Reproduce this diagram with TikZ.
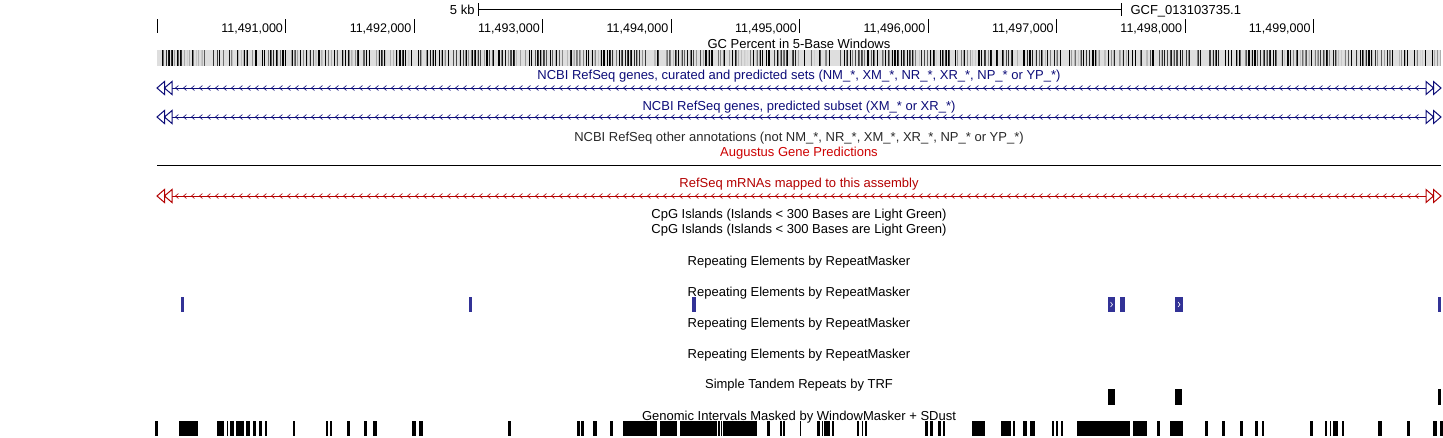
\documentclass[tikz,border=0pt]{standalone}
\usepackage{fontspec}
\setmainfont{Liberation Sans}

\definecolor{refblue}{RGB}{12,12,120}
\definecolor{mrnared}{RGB}{180,0,0}
\definecolor{augred}{RGB}{204,0,0}
\definecolor{rmblue}{RGB}{50,50,150}
\definecolor{gcback}{RGB}{222,222,222}
\definecolor{othergray}{RGB}{40,40,40}

\tikzset{
  tracklabel/.style={anchor=base, inner sep=0pt, font=\fontsize{13}{15}\selectfont},
  ticklabel/.style={anchor=base east, inner sep=0pt, font=\fontsize{12.5}{15}\selectfont},
}

\begin{document}
\begin{tikzpicture}[x=1pt,y=-1pt,line width=1pt]
    \useasboundingbox (0,0) rectangle (1443,437);
    % scale bar
    \draw (478,9.5) -- (1121,9.5);
    \draw (478,3) -- (478,16);
    \draw (1121,3) -- (1121,16);
    \node[tracklabel,anchor=base east](kb) at (475,14.5){5 kb};
    \node[tracklabel,anchor=base west](asm) at (1130,14.5){GCF\_013103735.1};
    % ruler
    \draw (157,19) -- (157,33);
    \foreach \n [count=\i] in {491,...,499} {
      \pgfmathsetmacro\tx{157.5+128.45*\i}
      \draw (\tx,19) -- (\tx,33);
      \node[ticklabel](pos\n) at (\tx-2.5,32){11,\n,000};
    }
    % gc percent
    \fill[gcback] (157,50) rectangle (1441,66);
    \pgfmathsetseed{42}
    \foreach \x in {157,158.5,...,1439.5} {
      \pgfmathtruncatemacro\k{min(100,max(0,210*rnd-70))}
      \ifnum\k>0 \fill[black!\k!gcback] (\x,50) rectangle ++(1.2,16); \fi
    }
    % gene strands
    \foreach \y/\c in {88/refblue,117/refblue,196/mrnared} {
      \draw[\c] (157,\y) -- (1441,\y);
      \foreach \x in {177,185,...,1423}
        \draw[\c,line width=0.6pt] (\x+1.5,\y-2.5) -- (\x-1.5,\y) -- (\x+1.5,\y+2.5);
      \draw[\c,fill=white] (157,\y) -- (164.5,\y-6.5) -- (164.5,\y+6.5) -- cycle
                (164.5,\y) -- (172,\y-6.5) -- (172,\y+6.5) -- cycle
                (1441,\y) -- (1433.5,\y-6.5) -- (1433.5,\y+6.5) -- cycle
                (1433.5,\y) -- (1426,\y-6.5) -- (1426,\y+6.5) -- cycle;
    }
    \draw (157,165) -- (1441,165);
    % repeatmasker
    \foreach \a/\b in {181/184,469/472,692/696,1108/1115,1120/1125,1175/1183,1438/1441}
      \fill[rmblue] (\a,297) rectangle (\b,312);
    \draw[white,line width=0.6pt] (1110.5,302) -- (1112.5,304.5) -- (1110.5,307);
    \draw[white,line width=0.6pt] (1178,302) -- (1180,304.5) -- (1178,307);
    % trf
    \foreach \a/\b in {1108/1115,1175/1182,1438/1441}
      \fill (\a,389) rectangle (\b,405);
    % windowmasker
    \foreach \a/\b in {155/158,179/198,217/224,226.5/228,229.5/233.5,235.5/243.5,245.5/250,253/256,
        259/262,265/267,293/295,326/328,329.5/332,347/350,363.5/367,373/377,412/416,419/423,
        508/511,577/579.5,581/584,593/597,610/613,623/657,660/677,680/717,718/719.5,720.5/722,
        723/757,767/770,780/782,783/785,800/801,817/820,821.5/823,824/830,832/834,857/859,
        861.5/863,865/867,925/928,930/933,938/941,943/945,972/985,1001/1011,1013/1015,1023/1027,
        1030/1035,1052/1053.5,1056/1058,1061/1063,1077/1130,1133/1147,1157/1160,1170/1183,
        1205/1208,1222/1225,1240/1243,1255/1258,1262/1264,1310/1313,1325/1327,1330/1331,
        1333/1338,1342/1344,1378/1382,1407/1410,1433/1437,1440/1443}
      \fill (\a,421) rectangle (\b,436);
    % track titles
    \node[tracklabel](gc) at (799,48){GC Percent in 5-Base Windows};
    \node[tracklabel,refblue](curated) at (799,79){NCBI RefSeq genes, curated and predicted sets (NM\_*, XM\_*, NR\_*, XR\_*, NP\_* or YP\_*)};
    \node[tracklabel,refblue](predicted) at (799,110){NCBI RefSeq genes, predicted subset (XM\_* or XR\_*)};
    \node[tracklabel,othergray](other) at (799,141.5){NCBI RefSeq other annotations (not NM\_*, NR\_*, XM\_*, XR\_*, NP\_* or YP\_*)};
    \node[tracklabel,augred](augustus) at (799,156){Augustus Gene Predictions};
    \node[tracklabel,mrnared](mrna) at (799,187.3){RefSeq mRNAs mapped to this assembly};
    \node[tracklabel](cpgA) at (799,218.3){CpG Islands (Islands < 300 Bases are Light Green)};
    \node[tracklabel](cpgB) at (799,233.3){CpG Islands (Islands < 300 Bases are Light Green)};
    \node[tracklabel](rmA) at (799,265){Repeating Elements by RepeatMasker};
    \node[tracklabel](rmB) at (799,296){Repeating Elements by RepeatMasker};
    \node[tracklabel](rmC) at (799,327){Repeating Elements by RepeatMasker};
    \node[tracklabel](rmD) at (799,358){Repeating Elements by RepeatMasker};
    \node[tracklabel](trf) at (799,388.5){Simple Tandem Repeats by TRF};
    \node[tracklabel](wm) at (799,420){Genomic Intervals Masked by WindowMasker + SDust};
  \end{tikzpicture}
\end{document}
